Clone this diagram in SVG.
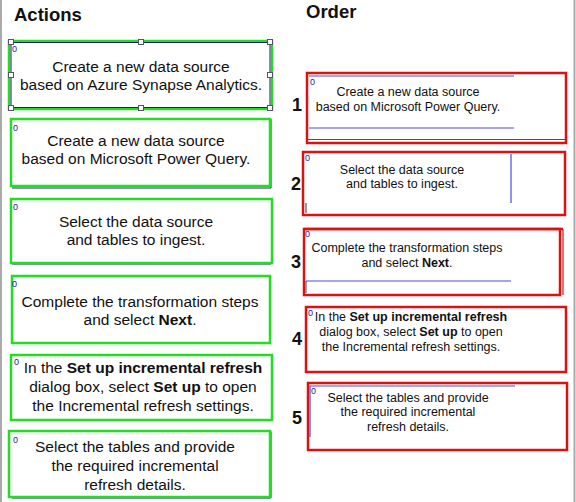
<svg xmlns="http://www.w3.org/2000/svg" width="576" height="502" viewBox="0 0 576 502">
<style>
.t{font-family:"Liberation Sans",Arial,sans-serif;fill:#111;text-anchor:middle}
.l{font-size:15.5px}
.r{font-size:12.5px}
.h{font-family:"Liberation Sans",Arial,sans-serif;font-weight:bold;font-size:18.5px;fill:#111}
.n{font-family:"Liberation Sans",Arial,sans-serif;font-weight:bold;font-size:18px;fill:#111}
.z{font-family:"Liberation Sans",Arial,sans-serif;font-size:9px;fill:#22229a}
.g{fill:#fff;stroke:#22dd22;stroke-width:2.5}
.nv{fill:none;stroke:#1a2060;stroke-width:1}
.rd{fill:#fff;stroke:#dd1111;stroke-width:2.5}
.bl{stroke:#4a4ae0;stroke-width:1.2;fill:none}
.hd{fill:#fff;stroke:#556;stroke-width:1}
b{font-weight:bold}
</style>
<rect width="576" height="502" fill="#fff"/>
<line x1="1" y1="0" x2="1" y2="502" stroke="#aaa" stroke-width="2"/>
<line x1="574.5" y1="0" x2="574.5" y2="502" stroke="#aaa" stroke-width="2"/>
<text class="h" x="14" y="21">Actions</text>
<text class="h" x="306" y="18">Order</text>

<g id="action1">
<rect class="g" x="9" y="41" width="263" height="68"/>
<rect class="nv" x="11" y="42.5" width="259" height="65"/>
<rect class="hd" x="8.5" y="39.5" width="5" height="5"/>
<rect class="hd" x="138.5" y="39.5" width="5" height="5"/>
<rect class="hd" x="267.5" y="39.5" width="5" height="5"/>
<rect class="hd" x="8.5" y="72.5" width="5" height="5"/>
<rect class="hd" x="267.5" y="72.5" width="5" height="5"/>
<rect class="hd" x="8.5" y="105.5" width="5" height="5"/>
<rect class="hd" x="138.5" y="105.5" width="5" height="5"/>
<rect class="hd" x="267.5" y="105.5" width="5" height="5"/>
<text class="z" x="12" y="52">0</text>
<text class="t l" x="141" y="72">Create a new data source</text>
<text class="t l" x="141" y="90">based on Azure Synapse Analytics.</text>
</g>

<g id="action2">
<path class="nv" d="M271 119 V188 H12"/>
<rect class="g" x="11" y="119" width="259" height="67"/>
<text class="z" x="13" y="131">0</text>
<text class="t l" x="136" y="146">Create a new data source</text>
<text class="t l" x="136" y="164">based on Microsoft Power Query.</text>
</g>

<g id="action3">
<path class="nv" d="M12 198.5 H271 V264 H12"/>
<rect class="g" x="11" y="199" width="261" height="64"/>
<text class="z" x="13" y="210">0</text>
<text class="t l" x="136" y="227">Select the data source</text>
<text class="t l" x="136" y="245">and tables to ingest.</text>
</g>

<g id="action4">
<rect class="g" x="12" y="276" width="258" height="67"/>
<text class="z" x="12" y="287">0</text>
<text class="t l" x="140" y="307">Complete the transformation steps</text>
<text class="t l" x="140" y="325">and select <tspan font-weight="bold">Next</tspan>.</text>
</g>

<g id="action5">
<path class="nv" d="M12 354.5 H271 V420"/>
<rect class="g" x="11" y="355" width="261" height="65"/>
<text class="z" x="14" y="365">0</text>
<text class="t l" x="143" y="373">In the <tspan font-weight="bold">Set up incremental refresh</tspan></text>
<text class="t l" x="143" y="392">dialog box, select <tspan font-weight="bold">Set up</tspan> to open</text>
<text class="t l" x="143" y="411">the Incremental refresh settings.</text>
</g>

<g id="action6">
<path class="nv" d="M12 431.5 H271 V498 H12"/>
<rect class="g" x="9" y="431" width="261" height="66"/>
<text class="z" x="13" y="443">0</text>
<text class="t l" x="135" y="452">Select the tables and provide</text>
<text class="t l" x="135" y="471">the required incremental</text>
<text class="t l" x="135" y="490">refresh details.</text>
</g>

<g id="order1">
<rect class="rd" x="307" y="73" width="259" height="70"/>
<line x1="308" y1="139.5" x2="565" y2="139.5" stroke="#dd1111" stroke-width="1"/>
<line class="bl" x1="309" y1="76" x2="514" y2="76"/>
<line class="bl" x1="309" y1="128" x2="514" y2="128"/>
<text class="z" x="310" y="85">0</text>
<text class="n" x="292" y="111">1</text>
<text class="t r" x="408" y="96">Create a new data source</text>
<text class="t r" x="408" y="111">based on Microsoft Power Query.</text>
</g>

<g id="order2">
<rect class="rd" x="303" y="152" width="262" height="63"/>
<line class="bl" x1="511" y1="154" x2="511" y2="203"/>
<line x1="306" y1="203" x2="306" y2="213" stroke="#333" stroke-width="1"/>
<text class="z" x="305" y="161">0</text>
<text class="n" x="291" y="190">2</text>
<text class="t r" x="402" y="174">Select the data source</text>
<text class="t r" x="402" y="188">and tables to ingest.</text>
</g>

<g id="order3">
<rect class="rd" x="304" y="229" width="256" height="66"/>
<line x1="563" y1="229" x2="563" y2="295" stroke="#dd1111" stroke-width="1.2"/>
<line x1="304" y1="229" x2="563" y2="229" stroke="#dd1111" stroke-width="2.5"/>
<line class="bl" x1="306" y1="281" x2="511" y2="281"/>
<line x1="306" y1="281" x2="306" y2="293" stroke="#444" stroke-width="1"/>
<text class="z" x="305" y="237">0</text>
<text class="n" x="291" y="268">3</text>
<text class="t r" x="407" y="252">Complete the transformation steps</text>
<text class="t r" x="407" y="267">and select <tspan font-weight="bold">Next</tspan>.</text>
</g>

<g id="order4">
<rect class="rd" x="306" y="307" width="260" height="65"/>
<text class="z" x="308" y="316">0</text>
<text class="n" x="292" y="345">4</text>
<text class="t r" x="411" y="321">In the <tspan font-weight="bold">Set up incremental refresh</tspan></text>
<text class="t r" x="411" y="336">dialog box, select <tspan font-weight="bold">Set up</tspan> to open</text>
<text class="t r" x="411" y="351">the Incremental refresh settings.</text>
</g>

<g id="order5">
<rect class="rd" x="308" y="383" width="259" height="67"/>
<path class="bl" d="M310 437 V386 H515"/>
<text class="z" x="311" y="394">0</text>
<text class="n" x="292" y="424">5</text>
<text class="t r" x="408" y="402">Select the tables and provide</text>
<text class="t r" x="408" y="416">the required incremental</text>
<text class="t r" x="408" y="431">refresh details.</text>
</g>

<g id="connectors"></g>
</svg>
